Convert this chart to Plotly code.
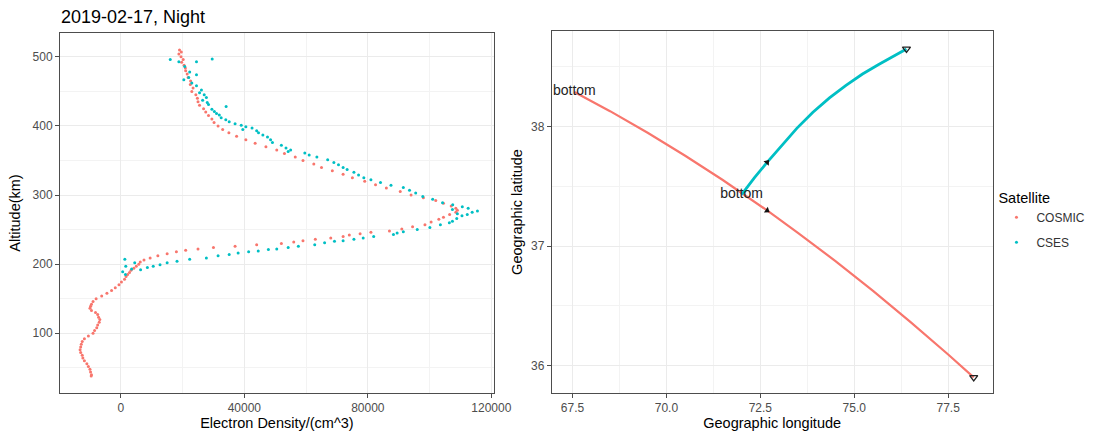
import plotly.graph_objects as go

# ---------------- data ----------------
satellites = ["COSMIC", "CSES"]
colors = {"COSMIC": "#F8766D", "CSES": "#00BFC4"}

cosmic_alt = [510, 507, 504, 500, 496, 492, 488, 484, 480, 475, 470, 465, 460, 455, 450, 445, 440,
              435, 430, 425, 420, 415, 410, 405, 400, 395, 390, 385, 380, 375, 370, 365, 360, 355,
              350, 345, 340, 335, 330, 325, 320, 315, 310, 305, 300, 296, 292, 288, 284, 281, 278,
              275, 272, 268, 265, 261, 257, 254, 251, 248, 246, 244, 242, 240, 238, 236, 234, 232,
              230, 228, 226, 224, 222, 220, 218, 215, 212, 209, 206, 203, 200, 197, 194, 191, 188,
              185, 182, 178, 174, 170, 166, 162, 158, 154, 150, 146, 142, 139, 136, 133, 130, 127,
              123, 120, 116, 112, 108, 104, 100, 96, 92, 88, 84, 80, 76, 72, 68, 64, 60, 56, 52,
              48, 44, 40, 38]
cosmic_ne = [19000, 19600, 18800, 19500, 20200, 19700, 20500, 20900, 21000, 21500, 21800, 22600,
             22500, 23400, 23000, 24300, 24800, 25000, 25500, 26800, 27500, 28400, 29500, 30200,
             31500, 33000, 35000, 37500, 40500, 43500, 47000, 50500, 53000, 56500, 59000, 62500,
             65000, 68500, 72000, 75000, 79000, 82500, 86000, 90500, 94000, 98000, 102000, 104500,
             107000, 108500, 109000, 108500, 106500, 104500, 103000, 100500, 98500, 94500, 91000,
             87000, 81000, 77500, 74000, 72000, 68000, 63000, 59000, 56000, 52000, 44000, 37000,
             30000, 25000, 21000, 18000, 15000, 12000, 9500, 7500, 6300, 5800, 5000, 4200, 3300,
             2800, 2200, 1700, 1200, 200, -600, -1800, -3000, -4500, -6200, -8000, -9000, -9500,
             -9800, -10000, -9500, -8200, -7500, -7200, -6800, -7000, -7500, -7800, -8500, -9000,
             -10500, -11800, -12500, -12800, -13000, -13200, -13000, -12500, -12300, -11800,
             -11000, -10500, -10000, -9800, -9500, -9600]

cses_alt = [496, 493, 493, 497, 486, 478, 474, 467, 470, 462, 458, 452, 448, 445, 441, 437, 434,
            431, 428, 424, 421, 418, 416, 412, 409, 406, 403, 401, 399, 397, 395, 393, 390, 387,
            384, 380, 376, 372, 368, 365, 363, 361, 358, 355, 351, 347, 344, 340, 337, 333, 329,
            325, 322, 318, 314, 311, 307, 303, 298, 294, 289, 286, 283, 281, 279, 277, 275, 273,
            272, 270, 266, 262, 260, 257, 253, 250, 247, 245, 243, 240, 238, 236, 234, 233, 231,
            228, 226, 224, 222, 221, 219, 218, 216, 214, 212, 209, 207, 204, 202, 199, 197, 195,
            192, 202, 207, 197, 189, 185, 193]
cses_ne = [16000, 18800, 24500, 29600, 20700, 22300, 24500, 20400, 22000, 23000, 24500, 26100,
           25500, 27000, 27700, 26500, 28000, 28400, 34100, 29500, 30300, 31000, 31900, 32500,
           34000, 35100, 37000, 39000, 40500, 42500, 39500, 44000, 44600, 46000, 47500, 48500,
           49100, 52000, 53500, 55000, 54200, 59600, 61000, 63500, 67000, 69000, 70500, 72000,
           73300, 75500, 77000, 78700, 81000, 84100, 87500, 91500, 93500, 95500, 97800, 101000,
           104200, 107500, 110600, 112500, 107400, 115500, 113800, 109000, 112200, 110500, 108800,
           107400, 106400, 103500, 100100, 96000, 91500, 89500, 88300, 81900, 78500, 75500, 72000,
           69200, 66000, 62800, 57500, 54200, 50500, 47800, 44500, 41400, 38000, 35100, 31500,
           27700, 22300, 18200, 15000, 12700, 10500, 8600, 6400, 4500, 1300, 1600, 600, 1500, 3500]

cosmic_lon = [67.55, 68.5, 69.5, 70.5, 71.5, 72.03, 72.68, 73.5, 74.5, 75.5, 76.5, 77.5, 78.18]
cosmic_lat = [38.290, 38.129, 37.948, 37.756, 37.553, 37.440, 37.298, 37.111, 36.874, 36.625,
              36.364, 36.092, 35.901]
cses_lon = [72.0, 72.35, 72.68, 73.07, 73.47, 73.9, 74.34, 74.78, 75.22, 75.65, 76.09, 76.39]
cses_lat = [37.430, 37.575, 37.700, 37.845, 37.985, 38.120, 38.240, 38.345, 38.440, 38.520,
            38.595, 38.650]

arrow_idx = {"COSMIC": 6, "CSES": 2}
arrow_angle = {"COSMIC": 124, "CSES": 40}

x1_ticks = [0, 40000, 80000, 120000]
x1_ticktext = ["0", "40000", "80000", "120000"]
y1_ticks = [100, 200, 300, 400, 500]
x2_ticks = [67.5, 70.0, 72.5, 75.0, 77.5]
y2_ticks = [36, 37, 38]

title_text = "2019-02-17, Night"
label_text = "bottom"

# ---------------- figure ----------------
W, H = 1101, 437
FONT = "Liberation Sans, Arial, sans-serif"
fig = go.Figure()

prof = {"COSMIC": (cosmic_ne, cosmic_alt), "CSES": (cses_ne, cses_alt)}
track = {"COSMIC": (cosmic_lon, cosmic_lat), "CSES": (cses_lon, cses_lat)}

for s in satellites:
    xs, ys = prof[s]
    fig.add_trace(go.Scatter(x=xs, y=ys, mode="markers", name=s, legendgroup=s,
                             marker=dict(color=colors[s], size=3),
                             xaxis="x", yaxis="y", showlegend=True))

for s in satellites:
    lon, lat = track[s]
    fig.add_trace(go.Scatter(x=lon, y=lat, mode="lines", name=s, legendgroup=s,
                             line=dict(color=colors[s], width=2.2 if s == "COSMIC" else 2.8),
                             xaxis="x2", yaxis="y2", showlegend=False, hoverinfo="skip"))
    # label at the bottom end of each profile track
    fig.add_trace(go.Scatter(x=[lon[0]], y=[lat[0]], mode="text", text=[label_text],
                             textfont=dict(family=FONT, size=14, color="#222"),
                             textposition="middle center",
                             xaxis="x2", yaxis="y2", showlegend=False, hoverinfo="skip"))
    # end marker
    fig.add_trace(go.Scatter(x=[lon[-1]], y=[lat[-1]], mode="markers",
                             marker=dict(symbol="triangle-down-open", size=7, color="#222",
                                         line=dict(width=1.3)),
                             xaxis="x2", yaxis="y2", showlegend=False, hoverinfo="skip"))
    # direction arrow
    i = arrow_idx[s]
    fig.add_trace(go.Scatter(x=[lon[i]], y=[lat[i]], mode="markers",
                             marker=dict(symbol="triangle-up", size=6, color="#111",
                                         angle=arrow_angle[s]),
                             xaxis="x2", yaxis="y2", showlegend=False, hoverinfo="skip"))

grid = "#EBEBEB"
border = "#4D4D4D"
tickfont = dict(family=FONT, size=12, color="#4D4D4D")
titlefont = dict(family=FONT, size=14.5, color="#000")
minor_style = dict(showgrid=True, gridcolor="#F3F3F3", gridwidth=0.6, ticks="")

common = dict(showline=True, linecolor=border, linewidth=1, mirror=True,
              ticks="outside", ticklen=4, tickcolor=border, tickwidth=1,
              gridcolor=grid, gridwidth=1, zeroline=False, tickfont=tickfont,
              title_font=titlefont)

fig.update_layout(
    width=W, height=H,
    margin=dict(l=0, r=0, t=0, b=0),
    paper_bgcolor="white", plot_bgcolor="white",
    font=dict(family=FONT),
    xaxis=dict(domain=[61 / W, 502 / W], range=[-19700, 120800], anchor="y",
               tickvals=x1_ticks, ticktext=x1_ticktext,
               minor=dict(dtick=20000, tick0=0, **minor_style),
               title=dict(text="Electron Density/(cm^3)", standoff=3), **common),
    yaxis=dict(domain=[1 - 393 / H, 1 - 33 / H], range=[13.5, 534.5], anchor="x",
               tickvals=y1_ticks,
               minor=dict(dtick=50, tick0=0, **minor_style),
               title=dict(text="Altitude(km)", standoff=8), **common),
    xaxis2=dict(domain=[561 / W, 1009 / W], range=[66.95, 78.68], anchor="y2",
                tickvals=x2_ticks, tickformat=".1f",
                minor=dict(dtick=1.25, tick0=67.5, **minor_style),
                title=dict(text="Geographic longitude", standoff=3), **common),
    yaxis2=dict(domain=[1 - 393 / H, 1 - 31 / H], range=[35.77, 38.80], anchor="x2",
                tickvals=y2_ticks,
                minor=dict(dtick=0.5, tick0=36, **minor_style),
                title=dict(text="Geographic latitude", standoff=4), **common),
    legend=dict(x=1013 / W, y=1 - 184 / H, xanchor="left", yanchor="top",
                title=dict(text="Satellite", font=dict(family=FONT, size=14.5, color="#000")),
                font=dict(family=FONT, size=12, color="#333"), bgcolor="rgba(0,0,0,0)",
                itemsizing="trace", tracegroupgap=6, traceorder="grouped"),
    annotations=[dict(text=title_text, xref="paper", yref="paper", x=60 / W, y=1 - 17 / H,
                      xanchor="left", yanchor="middle", showarrow=False,
                      font=dict(family=FONT, size=18, color="#000"))],
)

fig.write_html("out.html", config={"displayModeBar": False},
               post_script="document.body.style.margin='0px';")
